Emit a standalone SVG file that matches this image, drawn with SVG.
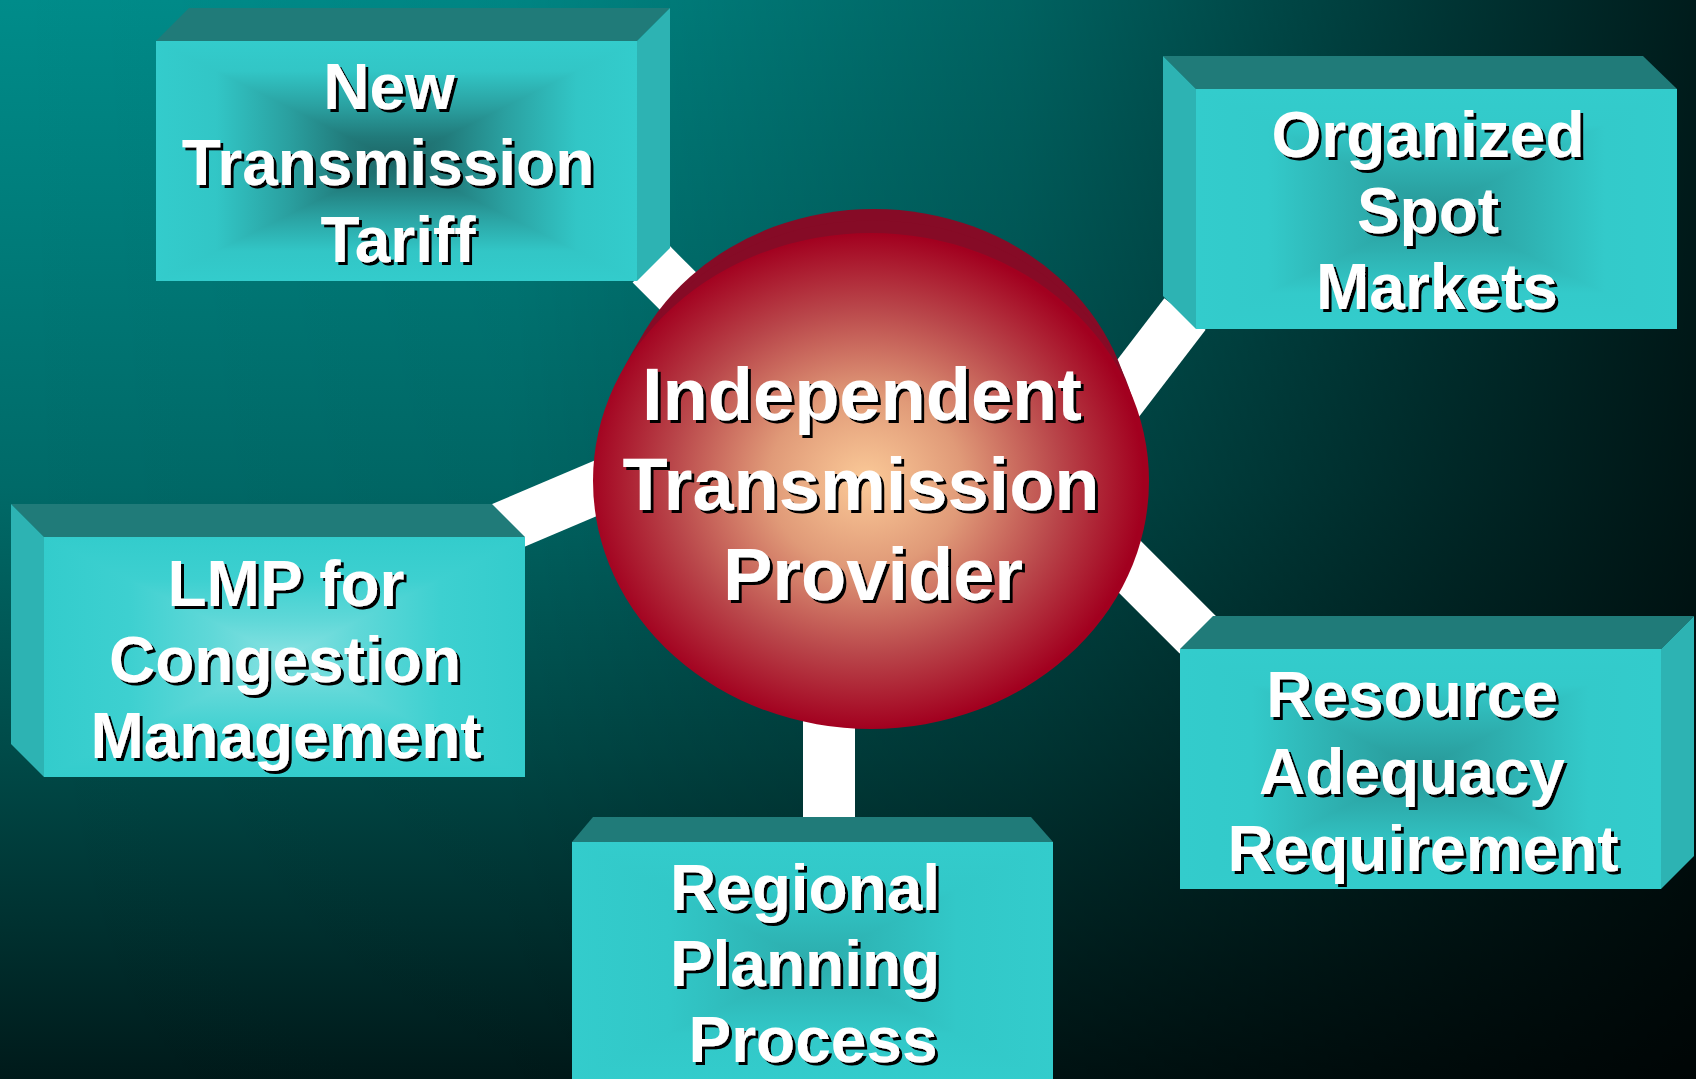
<svg xmlns="http://www.w3.org/2000/svg" width="1696" height="1079" viewBox="0 0 1696 1079">
<defs>
<linearGradient id="bgV" x1="0" y1="0" x2="0" y2="1">
<stop offset="0" stop-color="#008c8a"/>
<stop offset="0.45" stop-color="#006a68"/>
<stop offset="0.7" stop-color="#004a48"/>
<stop offset="1" stop-color="#001a1a"/>
</linearGradient>
<linearGradient id="bgH" x1="0" y1="0" x2="1" y2="0">
<stop offset="0" stop-color="#000" stop-opacity="0"/>
<stop offset="0.3" stop-color="#000" stop-opacity="0.05"/>
<stop offset="0.6" stop-color="#000" stop-opacity="0.3"/>
<stop offset="0.85" stop-color="#000" stop-opacity="0.62"/>
<stop offset="1" stop-color="#000" stop-opacity="0.8"/>
</linearGradient>
<radialGradient id="ball" cx="0.49" cy="0.5" r="0.5">
<stop offset="0" stop-color="#fbca98"/>
<stop offset="0.35" stop-color="#e09a78"/>
<stop offset="0.7" stop-color="#b9464a"/>
<stop offset="1" stop-color="#a2001f"/>
</radialGradient>
<linearGradient id="sDark" x1="0" y1="0" x2="1" y2="0">
<stop offset="0" stop-color="#33cccc"/>
<stop offset="0.125" stop-color="#32c6c6"/>
<stop offset="0.275" stop-color="#2aa0a0"/>
<stop offset="0.4" stop-color="#217a7a"/>
<stop offset="0.5" stop-color="#1d6666"/>
<stop offset="0.6" stop-color="#217a7a"/>
<stop offset="0.725" stop-color="#2aa0a0"/>
<stop offset="0.875" stop-color="#32c6c6"/>
<stop offset="1" stop-color="#33cccc"/>
</linearGradient>
<linearGradient id="sDarkV" href="#sDark" x1="0" y1="0" x2="0" y2="1"/>
<linearGradient id="sMid" x1="0" y1="0" x2="1" y2="0">
<stop offset="0" stop-color="#33cccc"/>
<stop offset="0.15" stop-color="#33caca"/>
<stop offset="0.325" stop-color="#2eb0b0"/>
<stop offset="0.5" stop-color="#289898"/>
<stop offset="0.675" stop-color="#2eb0b0"/>
<stop offset="0.85" stop-color="#33caca"/>
<stop offset="1" stop-color="#33cccc"/>
</linearGradient>
<linearGradient id="sMidV" href="#sMid" x1="0" y1="0" x2="0" y2="1"/>
<linearGradient id="sSoft" x1="0" y1="0" x2="1" y2="0">
<stop offset="0" stop-color="#33cccc"/>
<stop offset="0.2" stop-color="#32c8c8"/>
<stop offset="0.5" stop-color="#2cacac"/>
<stop offset="0.8" stop-color="#32c8c8"/>
<stop offset="1" stop-color="#33cccc"/>
</linearGradient>
<linearGradient id="sSoftV" href="#sSoft" x1="0" y1="0" x2="0" y2="1"/>
<linearGradient id="sLight" x1="0" y1="0" x2="1" y2="0">
<stop offset="0" stop-color="#33cccc"/>
<stop offset="0.175" stop-color="#3dd0d0"/>
<stop offset="0.35" stop-color="#60d8d8"/>
<stop offset="0.5" stop-color="#88e2e2"/>
<stop offset="0.65" stop-color="#60d8d8"/>
<stop offset="0.825" stop-color="#3dd0d0"/>
<stop offset="1" stop-color="#33cccc"/>
</linearGradient>
<linearGradient id="sLightV" href="#sLight" x1="0" y1="0" x2="0" y2="1"/>
<filter id="ds" x="-5%" y="-5%" width="110%" height="110%">
<feOffset in="SourceAlpha" dx="3" dy="3" result="o"/>
<feMerge><feMergeNode in="o"/><feMergeNode in="SourceGraphic"/></feMerge>
</filter>
</defs>
<style>
.top{fill:#207b79}
.side{fill:#2db3b3}
.lbl{font-family:"Liberation Sans",Arial,sans-serif;font-weight:bold;fill:#fff;text-anchor:middle;font-size:64px}
.big{font-size:74px}
.bar{stroke:#fff;stroke-width:52;fill:none;stroke-linecap:butt}
.back{fill:#860b26}
</style>
<rect width="1696" height="1079" fill="url(#bgV)"/>
<rect width="1696" height="1079" fill="url(#bgH)"/>

<g id="connectors">
<line class="bar" x1="651" y1="264" x2="740" y2="353"/>
<line class="bar" x1="1185" y1="314" x2="1100" y2="425"/>
<line class="bar" x1="470" y1="541.6" x2="660" y2="461"/>
<line class="bar" x1="1198" y1="635" x2="1100" y2="537"/>
<line class="bar" x1="829" y1="700" x2="829" y2="822"/>
</g>

<g id="itp">
<ellipse class="back" cx="874" cy="440" rx="260" ry="231"/>
<ellipse class="back" cx="872.5" cy="460" rx="269" ry="239.5"/>
<ellipse cx="871" cy="481" rx="278" ry="248" fill="url(#ball)"/>
<g filter="url(#ds)">
<text class="lbl big" x="862" y="420">Independent</text>
<text class="lbl big" x="861" y="510">Transmission</text>
<text class="lbl big" x="873" y="600">Provider</text>
</g>
</g>

<g id="ntt">
<polygon class="top" points="156,41 189,8 670,8 637,41"/>
<polygon class="side" points="637,41 670,8 670,248 637,281"/>
<rect x="156" y="41" width="481" height="240" fill="url(#sDark)"/>
<path d="M156,41 L637,41 L396.5,161 Z M156,281 L637,281 L396.5,161 Z" fill="url(#sDarkV)"/>
<g filter="url(#ds)">
<text class="lbl" x="389" y="109">New</text>
<text class="lbl" x="388" y="185">Transmission</text>
<text class="lbl" x="398" y="262">Tariff</text>
</g>
</g>

<g id="osm">
<polygon class="top" points="1196,89 1163,56 1643,56 1677,89"/>
<polygon class="side" points="1163,56 1196,89 1196,329 1163,296"/>
<rect x="1196" y="89" width="481" height="240" fill="url(#sMid)"/>
<path d="M1196,89 L1677,89 L1436.5,209 Z M1196,329 L1677,329 L1436.5,209 Z" fill="url(#sMidV)"/>
<g filter="url(#ds)">
<text class="lbl" x="1428" y="157">Organized</text>
<text class="lbl" x="1428" y="233">Spot</text>
<text class="lbl" x="1437" y="309">Markets</text>
</g>
</g>

<g id="lmp">
<polygon class="top" points="44,537 11,504 492,504 525,537"/>
<polygon class="side" points="11,504 44,537 44,777 11,744"/>
<rect x="44" y="537" width="481" height="240" fill="url(#sLight)"/>
<path d="M44,537 L525,537 L284.5,657 Z M44,777 L525,777 L284.5,657 Z" fill="url(#sLightV)"/>
<g filter="url(#ds)">
<text class="lbl" x="286" y="606">LMP for</text>
<text class="lbl" x="285" y="682">Congestion</text>
<text class="lbl" x="286" y="758">Management</text>
</g>
</g>

<g id="rpp">
<polygon class="top" points="572,842 593,817 1031,817 1053,842"/>
<rect x="572" y="842" width="481" height="240" fill="url(#sSoft)"/>
<path d="M572,842 L1053,842 L812.5,962 Z M572,1082 L1053,1082 L812.5,962 Z" fill="url(#sSoftV)"/>
<g filter="url(#ds)">
<text class="lbl" x="805" y="910">Regional</text>
<text class="lbl" x="805" y="986">Planning</text>
<text class="lbl" x="813" y="1062">Process</text>
</g>
</g>

<g id="rar">
<polygon class="top" points="1180,649 1213,616 1694,616 1661,649"/>
<polygon class="side" points="1661,649 1694,616 1694,856 1661,889"/>
<rect x="1180" y="649" width="481" height="240" fill="url(#sMid)"/>
<path d="M1180,649 L1661,649 L1420.5,769 Z M1180,889 L1661,889 L1420.5,769 Z" fill="url(#sMidV)"/>
<g filter="url(#ds)">
<text class="lbl" x="1412" y="717">Resource</text>
<text class="lbl" x="1412" y="794">Adequacy</text>
<text class="lbl" x="1423" y="871">Requirement</text>
</g>
</g>
</svg>
